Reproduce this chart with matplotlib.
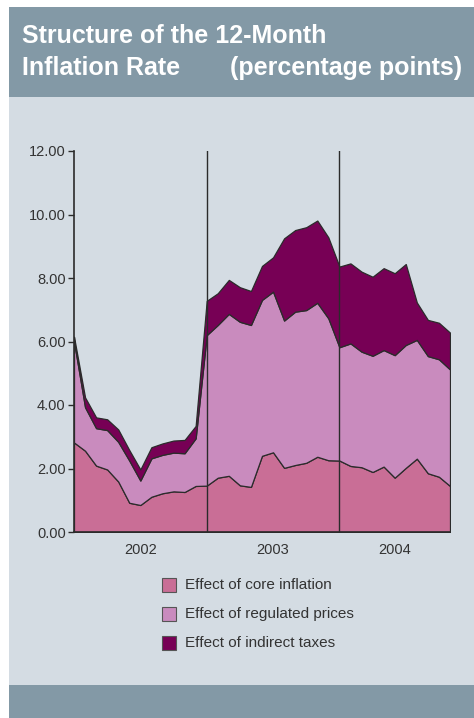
import numpy as np
import matplotlib
matplotlib.use('Agg')
import matplotlib.pyplot as plt
from matplotlib.patches import Rectangle

# monthly contributions, Jan 2002 .. Nov 2004 (percentage points)
core = [2.82, 2.56, 2.09, 1.97, 1.59, 0.92, 0.85, 1.11, 1.22, 1.28, 1.26, 1.45,
        1.46, 1.71, 1.77, 1.47, 1.42, 2.40, 2.51, 2.02, 2.11, 2.18, 2.37, 2.26,
        2.25, 2.08, 2.04, 1.89, 2.06, 1.71, 2.02, 2.31, 1.85, 1.74, 1.45]
core_plus_regulated = [6.00, 3.93, 3.27, 3.21, 2.84, 2.25, 1.62, 2.32, 2.43, 2.50, 2.48, 2.95,
                       6.20, 6.52, 6.87, 6.62, 6.52, 7.31, 7.57, 6.66, 6.94, 6.99, 7.22, 6.73,
                       5.82, 5.94, 5.68, 5.55, 5.73, 5.57, 5.89, 6.05, 5.54, 5.44, 5.12]
total = [6.15, 4.24, 3.61, 3.55, 3.23, 2.58, 1.97, 2.67, 2.79, 2.88, 2.90, 3.34,
         7.28, 7.52, 7.94, 7.71, 7.59, 8.38, 8.65, 9.25, 9.51, 9.60, 9.81, 9.28,
         8.36, 8.46, 8.20, 8.04, 8.31, 8.15, 8.44, 7.23, 6.68, 6.59, 6.28]

regulated = list(np.subtract(core_plus_regulated, core))
taxes = list(np.subtract(total, core_plus_regulated))

years = ['2002', '2003', '2004']
year_label_pos = [6, 18, 29]
year_breaks = [12, 24]
series_names = ['Effect of core inflation', 'Effect of regulated prices',
                'Effect of indirect taxes']
colors = ['#C96E96', '#C98BBE', '#770055']

header = '#8399A6'
panel = '#D4DCE3'
ink = '#2B2B2B'

plt.rcParams['font.family'] = ['Liberation Sans', 'DejaVu Sans']

fig = plt.figure(figsize=(4.74, 7.18), dpi=100, facecolor='white')
W, H = 474, 718


def box(x0, y0, x1, y1, color):
    # pixel coords measured from the top-left corner
    fig.patches.append(Rectangle((x0 / W, 1 - y1 / H), (x1 - x0) / W, (y1 - y0) / H,
                                 transform=fig.transFigure, facecolor=color,
                                 edgecolor='none', zorder=-10))


box(9, 7, 474, 97, header)
box(9, 97, 474, 685, panel)
box(9, 685, 474, 718, header)

fig.text(22 / W, 1 - 36 / H, 'Structure of the 12-Month', color='white',
         fontsize=18, fontweight='bold', va='center', ha='left')
fig.text(22 / W, 1 - 68 / H, 'Inflation Rate', color='white',
         fontsize=18, fontweight='bold', va='center', ha='left')
fig.text(462 / W, 1 - 68 / H, '(percentage points)', color='white',
         fontsize=18, fontweight='bold', va='center', ha='right')

ax = fig.add_axes([74 / W, 1 - 532 / H, (450 - 74) / W, (532 - 151) / H])
ax.set_facecolor(panel)
x = np.arange(len(core))
ax.stackplot(x, core, regulated, taxes, colors=colors, edgecolor=ink, linewidth=0.9)
for xb in year_breaks:
    ax.axvline(xb, color=ink, linewidth=1.0)

ax.set_xlim(0, len(core) - 1)
ax.set_ylim(0, 12)
ax.set_yticks(np.arange(0, 13, 2))
ax.set_yticklabels(['%.2f' % v for v in np.arange(0, 13, 2)])
ax.set_xticks(year_label_pos)
ax.set_xticklabels(years)
ax.tick_params(axis='y', length=4, width=1, color=ink, labelsize=10.5,
               labelcolor='#333333', pad=2)
ax.tick_params(axis='x', length=0, labelsize=10.5, labelcolor='#333333', pad=8)
for side in ['top', 'right']:
    ax.spines[side].set_visible(False)
for side in ['left', 'bottom']:
    ax.spines[side].set_color(ink)
    ax.spines[side].set_linewidth(1.2)

# legend
for i, (name, c) in enumerate(zip(series_names, colors)):
    yc = 585 + 29 * i
    fig.patches.append(Rectangle((162 / W, 1 - (yc + 7) / H), 14 / W, 14 / H,
                                 transform=fig.transFigure, facecolor=c,
                                 edgecolor='#555555', linewidth=0.8, zorder=2))
    fig.text(185 / W, 1 - yc / H, name, fontsize=11, color='#333333',
             va='center', ha='left')

fig.savefig('out.png', dpi=100, facecolor='white')
